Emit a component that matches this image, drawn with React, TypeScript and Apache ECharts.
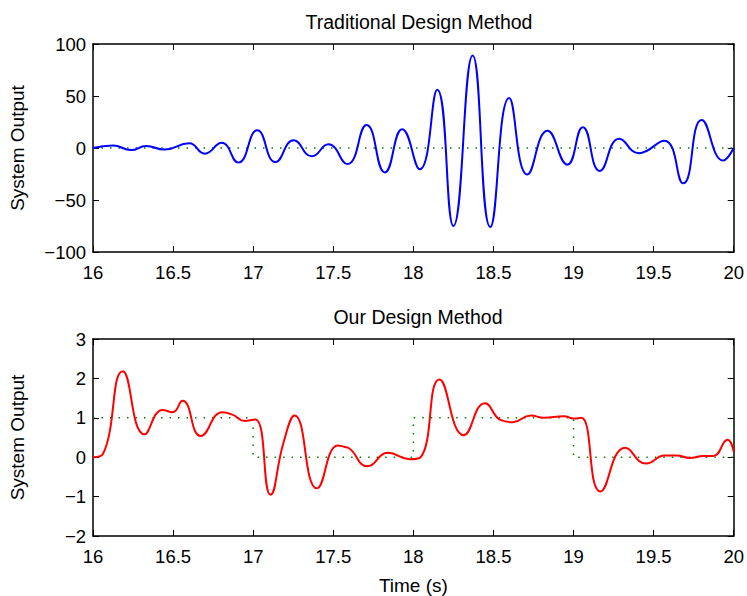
import React, { useEffect, useRef } from "react";
import * as echarts from "echarts";

const topTitle = "Traditional Design Method";
const bottomTitle = "Our Design Method";
const yName = "System Output";
const xName = "Time (s)";

const timeMin = 16;
const timeMax = 20;
const timeStep = 0.5;

const topYMin = -100;
const topYMax = 100;
const topYStep = 50;

const botYMin = -2;
const botYMax = 3;
const botYStep = 1;

// Traditional design output (extrema)
const topX = [16, 16.124, 16.238, 16.331, 16.445, 16.6, 16.698, 16.803, 16.907, 17.025, 17.139, 17.253, 17.366, 17.47, 17.588, 17.708, 17.822, 17.93, 18.04, 18.149, 18.25, 18.37, 18.48, 18.598, 18.712, 18.837, 18.961, 19.058, 19.164, 19.286, 19.406, 19.567, 19.685, 19.8, 19.934, 20];
const topY = [0, 2.5, -2, 2, -1.5, 4.5, -5.5, 5, -14, 17, -13.5, 7.5, -8, 3.5, -15.5, 22, -23.5, 18, -20.5, 56, -75, 89, -76, 48, -25.5, 16.5, -16, 20, -22, 9, -5, 7, -34, 27, -12, 0];

// Our design output
const botX = [16, 16.062, 16.186, 16.321, 16.435, 16.497, 16.559, 16.673, 16.807, 16.87, 16.95, 17.015, 17.108, 17.19, 17.259, 17.398, 17.528, 17.573, 17.594, 17.714, 17.842, 17.977, 18.045, 18.163, 18.315, 18.447, 18.547, 18.62, 18.733, 18.815, 18.94, 19.002, 19.048, 19.168, 19.323, 19.453, 19.57, 19.644, 19.727, 19.81, 19.872, 19.961, 20];
const botY = [0, 0.08, 2.18, 0.58, 1.2, 1.14, 1.43, 0.54, 1.14, 1.08, 0.92, 0.96, -0.95, 0.38, 1.06, -0.79, 0.3, 0.26, 0.24, -0.23, 0.11, -0.05, 0.0, 1.97, 0.56, 1.37, 0.94, 0.89, 1.06, 1.0, 1.04, 0.98, 1.0, -0.87, 0.24, -0.16, 0.04, 0.04, -0.02, 0.03, 0.03, 0.44, 0.14];

// Reference signals
const topRefX = [16, 20];
const topRefY = [0, 0];
const botRefX = [16, 17, 17, 18, 18, 19, 19, 20, 20];
const botRefY = [1, 1, 0, 0, 1, 1, 0, 0, 1];

const FONT = "'Liberation Sans', Arial, Helvetica, sans-serif";

const zip = (xs: number[], ys: number[]) => xs.map((x, i) => [x, ys[i]]);
const fmt = (v: number) => String(v).replace("-", "\u2212");

function App() {
  const ref = useRef<HTMLDivElement>(null);
  useEffect(() => {
    if (!ref.current) return;
    const chart = echarts.init(ref.current, undefined, { renderer: "svg" });
    const axisLine = { show: true, onZero: false, lineStyle: { color: "#000", width: 1.5 } };
    const tick = { show: true, inside: true, length: 6, lineStyle: { color: "#000", width: 1 } };
    const labelStyle = { color: "#000", fontSize: 18.5, fontFamily: FONT };
    const xAx = (grid: number, pos: string, show: boolean, extra: any = {}) => ({
      type: "value",
      gridIndex: grid,
      position: pos,
      min: timeMin,
      max: timeMax,
      interval: timeStep,
      axisLine,
      axisTick: tick,
      splitLine: { show: false },
      axisLabel: show ? { ...labelStyle, margin: 11, formatter: fmt } : { show: false },
      ...extra,
    });
    const yAx = (grid: number, pos: string, show: boolean, min: number, max: number, step: number, extra: any = {}) => ({
      type: "value",
      gridIndex: grid,
      position: pos,
      min,
      max,
      interval: step,
      axisLine,
      axisTick: tick,
      splitLine: { show: false },
      axisLabel: show ? { ...labelStyle, margin: 7, formatter: fmt } : { show: false },
      ...extra,
    });
    const nameStyle = { color: "#000", fontSize: 19, fontFamily: FONT };
    const titleStyle = { color: "#000", fontSize: 19.5, fontFamily: FONT, fontWeight: "normal" };
    chart.setOption({
      animation: false,
      backgroundColor: "#fff",
      title: [
        { text: topTitle, left: 414, top: 7, textAlign: "center", textStyle: titleStyle },
        { text: bottomTitle, left: 413, top: 302, textAlign: "center", textStyle: titleStyle },
      ],
      grid: [
        { left: 90, right: 13, top: 44, height: 208 },
        { left: 90, right: 13, top: 339, height: 208 },
      ],
      xAxis: [
        xAx(0, "bottom", true),
        xAx(0, "top", false),
        xAx(1, "bottom", true, { name: xName, nameLocation: "middle", nameGap: 40, nameTextStyle: nameStyle }),
        xAx(1, "top", false),
      ],
      yAxis: [
        yAx(0, "left", true, topYMin, topYMax, topYStep, { name: yName, nameLocation: "middle", nameGap: 66, nameRotate: 90, nameTextStyle: nameStyle }),
        yAx(0, "right", false, topYMin, topYMax, topYStep),
        yAx(1, "left", true, botYMin, botYMax, botYStep, { name: yName, nameLocation: "middle", nameGap: 66, nameRotate: 90, nameTextStyle: nameStyle }),
        yAx(1, "right", false, botYMin, botYMax, botYStep),
      ],
      series: [
        {
          type: "line", xAxisIndex: 0, yAxisIndex: 0, data: zip(topRefX, topRefY), showSymbol: false,
          lineStyle: { color: "#008000", width: 1.5, type: [1.5, 7] }, z: 1,
        },
        {
          type: "line", xAxisIndex: 0, yAxisIndex: 0, data: zip(topX, topY), showSymbol: false, smooth: 0.5,
          lineStyle: { color: "#0000ff", width: 2 }, z: 2,
        },
        {
          type: "line", xAxisIndex: 2, yAxisIndex: 2, data: zip(botRefX, botRefY), showSymbol: false,
          lineStyle: { color: "#008000", width: 1.5, type: [1.5, 7] }, z: 1,
        },
        {
          type: "line", xAxisIndex: 2, yAxisIndex: 2, data: zip(botX, botY), showSymbol: false, smooth: 0.5,
          lineStyle: { color: "#ff0000", width: 2 }, z: 2,
        },
      ],
    });
    return () => chart.dispose();
  }, []);
  return (
    <div
      ref={ref}
      style={{ position: "fixed", left: 0, top: 0, width: 747, height: 596, background: "#fff" }}
    />
  );
}

export default App;
